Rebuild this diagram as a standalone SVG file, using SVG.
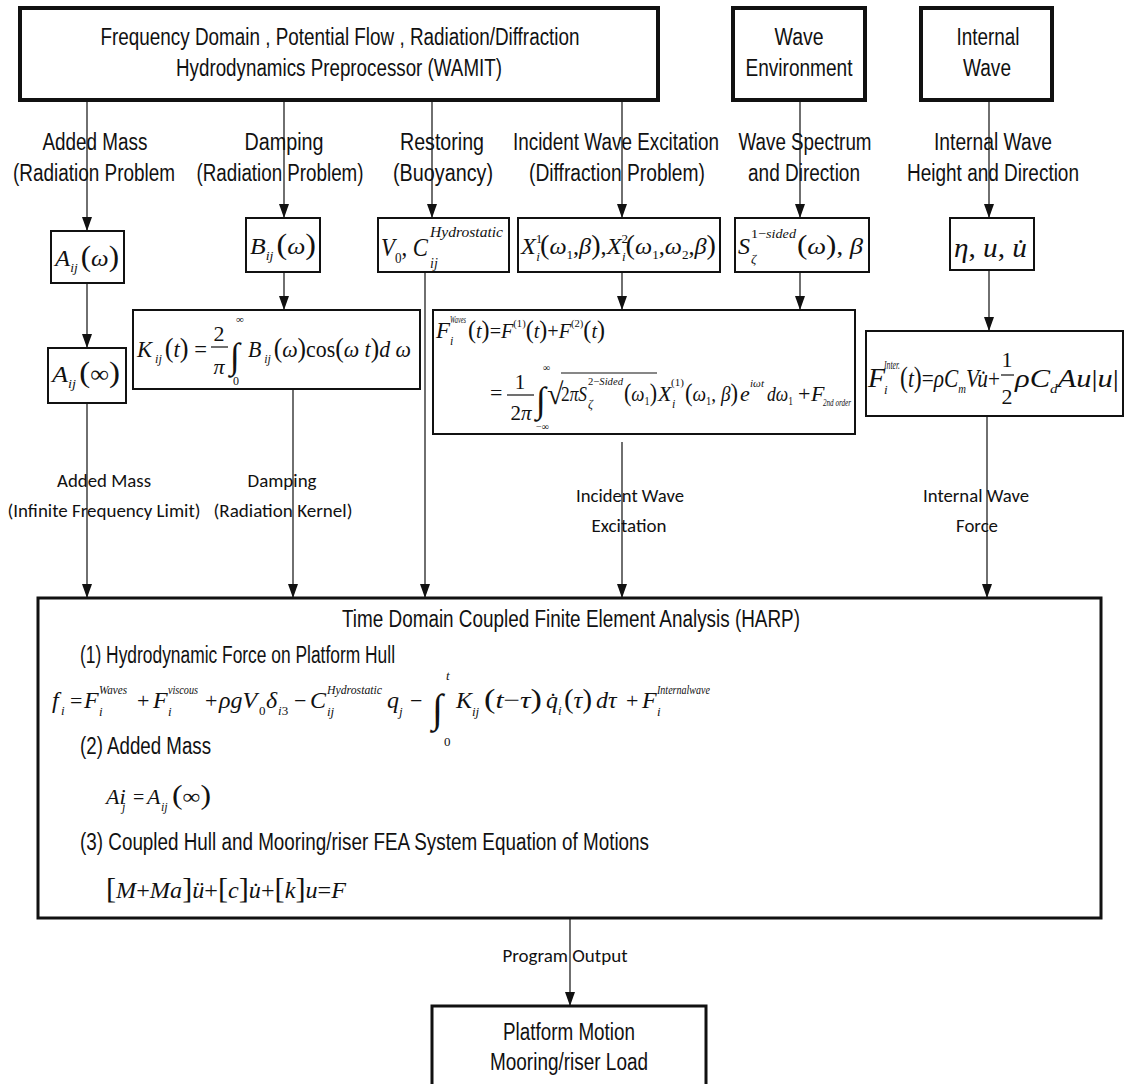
<svg xmlns="http://www.w3.org/2000/svg" width="1124" height="1084" viewBox="0 0 1124 1084">
<style>
.bg{fill:#fff}
.box{fill:#fff;stroke:#111;stroke-width:2}
.thick{fill:#fff;stroke:#111;stroke-width:4}
.mid{fill:#fff;stroke:#111;stroke-width:3}
.t{font-family:"Liberation Sans Narrow","Liberation Sans",Arial,sans-serif;font-size:23px;fill:#111}
.c{font-family:Carlito,Lato,"Open Sans",sans-serif;font-size:19px;fill:#111}
.m{font-family:"Liberation Serif","DejaVu Serif",serif;font-style:italic;fill:#111}
.r{font-style:normal}
.mid-a{text-anchor:middle}
.ln{stroke:#333;stroke-width:1.4;fill:none}
.arr{stroke:#333;stroke-width:1.4;fill:none;marker-end:url(#ah)}
.bar{stroke:#111;stroke-width:1.2}
</style>
<defs>
<marker id="ah" viewBox="0 0 14 10" refX="14" refY="5" markerWidth="14" markerHeight="10" markerUnits="userSpaceOnUse" orient="auto">
<path d="M0,0 L14,5 L0,10 z" fill="#111"/>
</marker>
</defs>
<rect class="bg" x="0" y="0" width="1124" height="1084"/>

<g id="connectors">
<path class="arr" d="M87 100 V231"/>
<path class="arr" d="M87 283 V348"/>
<path class="arr" d="M87 403 V598"/>
<path class="arr" d="M284 100 V218"/>
<path class="arr" d="M284 272 V310"/>
<path class="arr" d="M293 389 V598"/>
<path class="arr" d="M432 100 V218"/>
<path class="arr" d="M425 272 V598"/>
<path class="arr" d="M622 100 V218"/>
<path class="arr" d="M622 272 V310"/>
<path class="arr" d="M622 442 V598"/>
<path class="arr" d="M800 100 V218"/>
<path class="arr" d="M800 272 V310"/>
<path class="arr" d="M989 100 V218"/>
<path class="arr" d="M989 270 V331"/>
<path class="arr" d="M987 416 V598"/>
<path class="arr" d="M570 918 V1006"/>
</g>

<g id="edge-labels">
<text class="t mid-a" x="95" y="150" textLength="105" lengthAdjust="spacingAndGlyphs">Added Mass</text>
<text class="t mid-a" x="94" y="181" textLength="162" lengthAdjust="spacingAndGlyphs">(Radiation Problem</text>
<text class="t mid-a" x="284" y="150" textLength="79" lengthAdjust="spacingAndGlyphs">Damping</text>
<text class="t mid-a" x="280" y="181" textLength="167" lengthAdjust="spacingAndGlyphs">(Radiation Problem)</text>
<text class="t mid-a" x="442" y="150" textLength="84" lengthAdjust="spacingAndGlyphs">Restoring</text>
<text class="t mid-a" x="443" y="181" textLength="100" lengthAdjust="spacingAndGlyphs">(Buoyancy)</text>
<text class="t mid-a" x="616" y="150" textLength="206" lengthAdjust="spacingAndGlyphs">Incident Wave Excitation</text>
<text class="t mid-a" x="617" y="181" textLength="176" lengthAdjust="spacingAndGlyphs">(Diffraction Problem)</text>
<text class="t mid-a" x="805" y="150" textLength="133" lengthAdjust="spacingAndGlyphs">Wave Spectrum</text>
<text class="t mid-a" x="804" y="181" textLength="112" lengthAdjust="spacingAndGlyphs">and Direction</text>
<text class="t mid-a" x="993" y="150" textLength="118" lengthAdjust="spacingAndGlyphs">Internal Wave</text>
<text class="t mid-a" x="993" y="181" textLength="172" lengthAdjust="spacingAndGlyphs">Height and Direction</text>

<text class="c mid-a" x="104" y="487" textLength="94" lengthAdjust="spacingAndGlyphs">Added Mass</text>
<text class="c mid-a" x="104" y="517" textLength="193" lengthAdjust="spacingAndGlyphs">(Infinite Frequency Limit)</text>
<text class="c mid-a" x="282" y="487" textLength="69" lengthAdjust="spacingAndGlyphs">Damping</text>
<text class="c mid-a" x="283" y="517" textLength="139" lengthAdjust="spacingAndGlyphs">(Radiation Kernel)</text>
<text class="c mid-a" x="630" y="502" textLength="108" lengthAdjust="spacingAndGlyphs">Incident Wave</text>
<text class="c mid-a" x="629" y="532" textLength="75" lengthAdjust="spacingAndGlyphs">Excitation</text>
<text class="c mid-a" x="976" y="502" textLength="106" lengthAdjust="spacingAndGlyphs">Internal Wave</text>
<text class="c mid-a" x="977" y="532" textLength="42" lengthAdjust="spacingAndGlyphs">Force</text>
<text class="c mid-a" x="565" y="962" textLength="125" lengthAdjust="spacingAndGlyphs">Program Output</text>
</g>

<g id="wamit">
<rect class="thick" x="20" y="8" width="638" height="92"/>
<text class="t mid-a" x="340" y="45" textLength="479" lengthAdjust="spacingAndGlyphs">Frequency Domain , Potential Flow , Radiation/Diffraction</text>
<text class="t mid-a" x="339" y="76" textLength="326" lengthAdjust="spacingAndGlyphs">Hydrodynamics Preprocessor (WAMIT)</text>
</g>
<g id="wave-environment">
<rect class="thick" x="733" y="8" width="132" height="92"/>
<text class="t mid-a" x="799" y="45" textLength="49" lengthAdjust="spacingAndGlyphs">Wave</text>
<text class="t mid-a" x="799" y="76" textLength="107" lengthAdjust="spacingAndGlyphs">Environment</text>
</g>
<g id="internal-wave">
<rect class="thick" x="921" y="8" width="131" height="92"/>
<text class="t mid-a" x="988" y="45" textLength="63" lengthAdjust="spacingAndGlyphs">Internal</text>
<text class="t mid-a" x="987" y="76" textLength="48" lengthAdjust="spacingAndGlyphs">Wave</text>
</g>

<g id="added-mass-omega">
<rect class="box" x="51" y="231" width="73" height="52"/>
<text class="m" x="55" y="266" font-size="24" textLength="64" lengthAdjust="spacingAndGlyphs">A<tspan font-size="13" dy="6">ij</tspan><tspan class="r" font-size="30" dy="-6" dx="3">(</tspan>ω<tspan class="r" font-size="30">)</tspan></text>
</g>
<g id="damping-omega">
<rect class="box" x="246" y="218" width="74" height="54"/>
<text class="m" x="250" y="254" font-size="24" textLength="66" lengthAdjust="spacingAndGlyphs">B<tspan font-size="13" dy="6">ij</tspan><tspan class="r" font-size="30" dy="-6" dx="3">(</tspan>ω<tspan class="r" font-size="30">)</tspan></text>
</g>
<g id="restoring">
<rect class="box" x="378" y="218" width="131" height="54"/>
<text class="m" x="381" y="256" font-size="26" textLength="47" lengthAdjust="spacingAndGlyphs">V<tspan class="r" font-size="15" dy="7">0</tspan><tspan class="r" dy="-7">, </tspan>C</text>
<text class="m" x="430" y="237" font-size="14" textLength="73" lengthAdjust="spacingAndGlyphs">Hydrostatic</text>
<text class="m" x="430" y="268" font-size="14">ij</text>
</g>
<g id="excitation-rao">
<rect class="box" x="518" y="218" width="202" height="54"/>
<text class="m" x="521" y="254" font-size="24" textLength="195" lengthAdjust="spacingAndGlyphs">X<tspan class="r" font-size="13" dy="-11">1</tspan><tspan font-size="13" dx="-6" dy="18">i</tspan><tspan class="r" font-size="28" dy="-7">(</tspan>ω<tspan class="r" font-size="13" dy="5">1</tspan><tspan class="r" dy="-5">,</tspan>β<tspan class="r" font-size="28">)</tspan><tspan class="r">,</tspan>X<tspan class="r" font-size="13" dy="-11">2</tspan><tspan font-size="13" dx="-6" dy="18">i</tspan><tspan class="r" font-size="28" dy="-7">(</tspan>ω<tspan class="r" font-size="13" dy="5">1</tspan><tspan class="r" dy="-5">,</tspan>ω<tspan class="r" font-size="13" dy="5">2</tspan><tspan class="r" dy="-5">,</tspan>β<tspan class="r" font-size="28">)</tspan></text>
</g>
<g id="wave-spectrum">
<rect class="box" x="735" y="218" width="134" height="54"/>
<text class="m" x="738" y="254" font-size="24">S</text>
<text class="m" x="751" y="238" font-size="13" textLength="45" lengthAdjust="spacingAndGlyphs"><tspan class="r">1−</tspan>sided</text>
<text class="m" x="751" y="263" font-size="13">ζ</text>
<text class="m" x="797" y="254" font-size="24" textLength="66" lengthAdjust="spacingAndGlyphs"><tspan class="r" font-size="28">(</tspan>ω<tspan class="r" font-size="28">)</tspan><tspan class="r">, </tspan>β</text>
</g>
<g id="internal-kinematics">
<rect class="box" x="950" y="218" width="84" height="52"/>
<text class="m" x="954" y="257" font-size="28" textLength="73" lengthAdjust="spacingAndGlyphs">η<tspan class="r">, </tspan>u<tspan class="r">, </tspan>u̇</text>
</g>

<g id="added-mass-inf">
<rect class="box" x="48" y="348" width="78" height="55"/>
<text class="m" x="52" y="382" font-size="24" textLength="68" lengthAdjust="spacingAndGlyphs">A<tspan font-size="13" dy="6">ij</tspan><tspan class="r" font-size="30" dy="-6" dx="3">(</tspan><tspan class="r">∞</tspan><tspan class="r" font-size="30">)</tspan></text>
</g>
<g id="radiation-kernel">
<rect class="box" x="133" y="310" width="287" height="79"/>
<text class="m" x="137" y="357" font-size="24" textLength="70" lengthAdjust="spacingAndGlyphs">K<tspan font-size="13" dy="6"> ij</tspan><tspan class="r" font-size="28" dy="-6" dx="3">(</tspan>t<tspan class="r" font-size="28">)</tspan><tspan class="r"> =</tspan></text>
<text class="r m mid-a" x="219" y="341" font-size="22">2</text>
<line class="bar" x1="211" y1="347" x2="228" y2="347"/>
<text class="m mid-a" x="219" y="374" font-size="22">π</text>
<text class="m r" x="230" y="368" font-size="36">∫</text>
<text class="m r" x="236" y="323" font-size="11">∞</text>
<text class="m r" x="233" y="385" font-size="12">0</text>
<text class="m" x="248" y="357" font-size="24" textLength="163" lengthAdjust="spacingAndGlyphs">B<tspan font-size="13" dy="6"> ij</tspan><tspan class="r" font-size="28" dy="-6" dx="3">(</tspan>ω<tspan class="r" font-size="28">)</tspan><tspan class="r">cos</tspan><tspan class="r" font-size="28">(</tspan>ω t<tspan class="r" font-size="28">)</tspan>d ω</text>
</g>

<g id="wave-force">
<rect class="box" x="433" y="310" width="422" height="124"/>
<text class="m" x="436" y="338" font-size="23">F</text>
<text class="m" x="450" y="323" font-size="11" textLength="16" lengthAdjust="spacingAndGlyphs">Waves</text>
<text class="m" x="450" y="345" font-size="12">i</text>
<text class="m" x="468" y="338" font-size="21" textLength="137" lengthAdjust="spacingAndGlyphs"><tspan class="r" font-size="25">(</tspan>t<tspan class="r" font-size="25">)</tspan><tspan class="r">=</tspan>F<tspan class="r" font-size="11" dy="-11">(1)</tspan><tspan class="r" font-size="25" dy="11">(</tspan>t<tspan class="r" font-size="25">)</tspan><tspan class="r">+</tspan>F<tspan class="r" font-size="11" dy="-11">(2)</tspan><tspan class="r" font-size="25" dy="11">(</tspan>t<tspan class="r" font-size="25">)</tspan></text>
<text class="m r" x="490" y="400" font-size="22">=</text>
<text class="m r mid-a" x="520" y="389" font-size="21">1</text>
<line class="bar" x1="507" y1="395" x2="534" y2="395"/>
<text class="m mid-a" x="521" y="420" font-size="21"><tspan class="r">2</tspan>π</text>
<text class="m r" x="536" y="412" font-size="36">∫</text>
<text class="m r" x="543" y="371" font-size="10">∞</text>
<text class="m r" x="536" y="430" font-size="10">−∞</text>
<text class="m r" x="547" y="404" font-size="30">√</text>
<line class="bar" x1="561" y1="373" x2="657" y2="373"/>
<text class="m" x="561" y="401" font-size="22" textLength="26" lengthAdjust="spacingAndGlyphs"><tspan class="r">2</tspan>πS</text>
<text class="m" x="588" y="385" font-size="11" textLength="35" lengthAdjust="spacingAndGlyphs"><tspan class="r">2−</tspan>Sided</text>
<text class="m" x="588" y="408" font-size="12">ζ</text>
<text class="m" x="624" y="401" font-size="22" textLength="33" lengthAdjust="spacingAndGlyphs"><tspan class="r" font-size="26">(</tspan>ω<tspan class="r" font-size="12" dy="4">1</tspan><tspan class="r" font-size="26" dy="-4">)</tspan></text>
<text class="m" x="658" y="401" font-size="22">X</text>
<text class="m r" x="671" y="386" font-size="11">(1)</text>
<text class="m" x="672" y="408" font-size="12">i</text>
<text class="m" x="685" y="401" font-size="22" textLength="53" lengthAdjust="spacingAndGlyphs"><tspan class="r" font-size="26">(</tspan>ω<tspan class="r" font-size="12" dy="4">1</tspan><tspan class="r" dy="-4">, </tspan>β<tspan class="r" font-size="26">)</tspan></text>
<text class="m" x="740" y="401" font-size="22">e</text>
<text class="m" x="750" y="387" font-size="11" textLength="14" lengthAdjust="spacingAndGlyphs">iωt</text>
<text class="m" x="767" y="401" font-size="22" textLength="26" lengthAdjust="spacingAndGlyphs">dω<tspan class="r" font-size="12" dy="4">1</tspan></text>
<text class="m r" x="798" y="401" font-size="22">+</text>
<text class="m" x="811" y="401" font-size="22">F</text>
<text class="m" x="823" y="406" font-size="10" textLength="28" lengthAdjust="spacingAndGlyphs">2nd order</text>
</g>

<g id="internal-wave-force">
<rect class="box" x="866" y="331" width="257" height="85"/>
<text class="m" x="868" y="387" font-size="28">F</text>
<text class="m" x="884" y="369" font-size="12" textLength="16" lengthAdjust="spacingAndGlyphs">Inter.</text>
<text class="m" x="884" y="394" font-size="13">i</text>
<text class="m" x="900" y="387" font-size="26" textLength="100" lengthAdjust="spacingAndGlyphs"><tspan class="r" font-size="29">(</tspan>t<tspan class="r" font-size="29">)</tspan><tspan class="r">=</tspan>ρC<tspan font-size="13" dy="6">m</tspan><tspan dy="-6">Vu̇</tspan><tspan class="r">+</tspan></text>
<text class="m r mid-a" x="1007" y="367" font-size="22">1</text>
<line class="bar" x1="1001" y1="375" x2="1014" y2="375"/>
<text class="m r mid-a" x="1007" y="404" font-size="22">2</text>
<text class="m" x="1015" y="387" font-size="26" textLength="104" lengthAdjust="spacingAndGlyphs">ρC<tspan font-size="13" dy="6">d</tspan><tspan dy="-6">Au</tspan><tspan class="r">|</tspan>u<tspan class="r">|</tspan></text>
</g>

<g id="harp">
<rect class="mid" x="38" y="598" width="1063" height="320"/>
<text class="t" x="342" y="627" textLength="458" lengthAdjust="spacingAndGlyphs">Time Domain Coupled Finite Element Analysis (HARP)</text>
<text class="t" x="80" y="663" textLength="315" lengthAdjust="spacingAndGlyphs">(1) Hydrodynamic Force on Platform Hull</text>
<text class="m" x="52" y="708" font-size="24">f</text>
<text class="m" x="61" y="715" font-size="13">i</text>
<text class="m r" x="70" y="708" font-size="22">=</text>
<text class="m" x="84" y="708" font-size="24">F</text>
<text class="m" x="99" y="694" font-size="12" textLength="28" lengthAdjust="spacingAndGlyphs">Waves</text>
<text class="m" x="99" y="716" font-size="13">i</text>
<text class="m r" x="137" y="708" font-size="22">+</text>
<text class="m" x="153" y="708" font-size="24">F</text>
<text class="m" x="168" y="694" font-size="12" textLength="30" lengthAdjust="spacingAndGlyphs">viscous</text>
<text class="m" x="168" y="716" font-size="13">i</text>
<text class="m r" x="205" y="708" font-size="22">+</text>
<text class="m" x="219" y="708" font-size="24">ρgV</text>
<text class="m r" x="259" y="715" font-size="13">0</text>
<text class="m" x="266" y="708" font-size="24">δ</text>
<text class="m" x="278" y="715" font-size="13">i<tspan class="r">3</tspan></text>
<text class="m r" x="294" y="708" font-size="22">−</text>
<text class="m" x="310" y="708" font-size="24">C</text>
<text class="m" x="327" y="694" font-size="12" textLength="55" lengthAdjust="spacingAndGlyphs">Hydrostatic</text>
<text class="m" x="327" y="716" font-size="13">ij</text>
<text class="m" x="387" y="708" font-size="24">q</text>
<text class="m" x="399" y="716" font-size="13">j</text>
<text class="m r" x="410" y="708" font-size="22">−</text>
<text class="m r" x="432" y="722" font-size="40">∫</text>
<text class="m" x="446" y="680" font-size="13">t</text>
<text class="m r" x="444" y="746" font-size="13">0</text>
<text class="m" x="456" y="708" font-size="24">K</text>
<text class="m" x="472" y="716" font-size="13">ij</text>
<text class="m" x="484" y="708" font-size="24" textLength="58" lengthAdjust="spacingAndGlyphs"><tspan class="r" font-size="28">(</tspan>t<tspan class="r">−</tspan>τ<tspan class="r" font-size="28">)</tspan></text>
<text class="m" x="546" y="708" font-size="24">q̇</text>
<text class="m" x="558" y="715" font-size="13">i</text>
<text class="m" x="564" y="708" font-size="24" textLength="28" lengthAdjust="spacingAndGlyphs"><tspan class="r" font-size="28">(</tspan>τ<tspan class="r" font-size="28">)</tspan></text>
<text class="m" x="596" y="708" font-size="24">dτ</text>
<text class="m r" x="626" y="708" font-size="22">+</text>
<text class="m" x="642" y="708" font-size="24">F</text>
<text class="m" x="657" y="694" font-size="12" textLength="53" lengthAdjust="spacingAndGlyphs">Internalwave</text>
<text class="m" x="657" y="716" font-size="13">i</text>
<text class="t" x="80" y="754" textLength="131" lengthAdjust="spacingAndGlyphs">(2) Added Mass</text>
<text class="m" x="106" y="804" font-size="22">Ai</text>
<text class="m" x="122" y="811" font-size="12">j</text>
<text class="m r" x="133" y="804" font-size="20">=</text>
<text class="m" x="147" y="804" font-size="22">A</text>
<text class="m" x="161" y="811" font-size="12">ij</text>
<text class="m r" x="172" y="804" font-size="22" textLength="39" lengthAdjust="spacingAndGlyphs"><tspan font-size="28">(</tspan>∞<tspan font-size="28">)</tspan></text>
<text class="t" x="80" y="850" textLength="569" lengthAdjust="spacingAndGlyphs">(3) Coupled Hull and Mooring/riser FEA System Equation of Motions</text>
<text class="m" x="106" y="898" font-size="24" textLength="240" lengthAdjust="spacingAndGlyphs"><tspan class="r" font-size="30">[</tspan>M<tspan class="r">+</tspan>Ma<tspan class="r" font-size="30">]</tspan>ü<tspan class="r">+</tspan><tspan class="r" font-size="30">[</tspan>c<tspan class="r" font-size="30">]</tspan>u̇<tspan class="r">+</tspan><tspan class="r" font-size="30">[</tspan>k<tspan class="r" font-size="30">]</tspan>u<tspan class="r">=</tspan>F</text>
</g>

<g id="platform-output">
<rect class="mid" x="432" y="1006" width="274" height="92"/>
<text class="t mid-a" x="569" y="1040" textLength="132" lengthAdjust="spacingAndGlyphs">Platform Motion</text>
<text class="t mid-a" x="569" y="1070" textLength="158" lengthAdjust="spacingAndGlyphs">Mooring/riser Load</text>
</g>
</svg>
